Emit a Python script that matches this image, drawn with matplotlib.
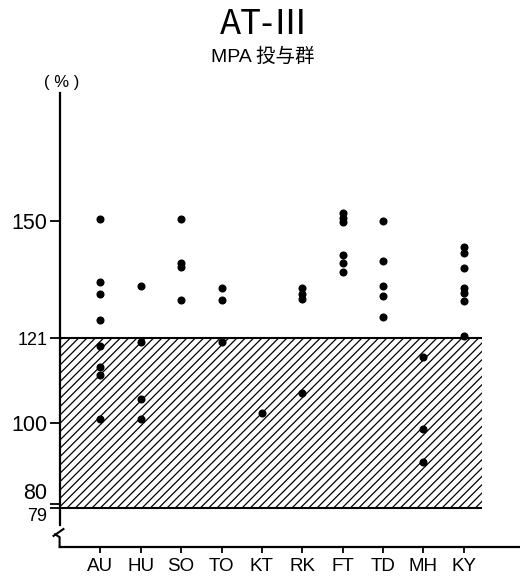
import matplotlib
matplotlib.use("Agg")
import matplotlib.pyplot as plt

plt.rcParams['font.family'] = ['Liberation Sans', 'Noto Sans CJK JP', 'DejaVu Sans']
plt.rcParams['hatch.linewidth'] = 0.9

# 施設ごとの測定値 (%)
sites = ['AU', 'HU', 'SO', 'TO', 'KT', 'RK', 'FT', 'TD', 'MH', 'KY']
values = [
    [150.5, 135, 132, 125.5, 119, 114, 112, 101],
    [134, 120, 106, 101],
    [150.5, 139.5, 138.5, 130.5],
    [133.5, 130.5, 120],
    [102.5],
    [133.5, 132, 130.8, 107.5],
    [152, 150.8, 149.7, 141.5, 139.5, 137.4],
    [150, 140, 134, 131.5, 126.3],
    [116.5, 98.5, 90.5],
    [143.6, 142.2, 138.3, 133.5, 132.3, 130.3, 121.5],
]

# 正常範囲
normal_low = 79
normal_high = 121
ytick_vals = [79, 80, 100, 121, 150]
ytick_sizes = [13, 15.5, 15.5, 13, 15.5]

fig = plt.figure(figsize=(5.2, 5.82), dpi=100)
ax = fig.add_axes([60 / 520, 1 - 547 / 582, 460 / 520, 454 / 582])

x_lo, x_hi = -1, 10.39
y_lo, y_hi = 69.46, 181.6
ax.set_xlim(x_lo, x_hi)
ax.set_ylim(y_lo, y_hi)

# 斜線の正常範囲
hatch_right = 9.46
ax.fill_between([x_lo, hatch_right], normal_low, normal_high,
                facecolor='white', edgecolor='black', hatch='////', linewidth=0, zorder=1)
ax.hlines([normal_low, normal_high], x_lo, hatch_right, colors='black', linewidth=1.5, zorder=2)

for i, vals in enumerate(values):
    ax.plot([i] * len(vals), vals, 'o', ms=4.8, color='black', zorder=3)

ax.set_xticks(range(len(sites)))
ax.set_xticklabels(sites, fontsize=13.5)
ax.set_yticks(ytick_vals)
ax.set_yticklabels([str(v) for v in ytick_vals])
for lab, fs, v in zip(ax.get_yticklabels(), ytick_sizes, ytick_vals):
    lab.set_fontsize(fs)
    if v == 80:
        lab.set_va('bottom')
    elif v == 79:
        lab.set_va('top')

ax.tick_params(axis='x', direction='out', length=4, width=1.3, pad=4)
ax.tick_params(axis='y', direction='out', length=7, width=1.3, pad=2)

for s in ['top', 'right']:
    ax.spines[s].set_visible(False)
ax.spines['bottom'].set_linewidth(1.6)
ax.spines['left'].set_linewidth(1.6)
ax.spines['left'].set_bounds(74.9, y_hi)

# 軸の省略記号
ax.plot([-1.16, -0.915], [72.2, 73.9], color='black', lw=1.5, clip_on=False)
ax.plot([-1.12, -1.01, -1.01], [72.6, 71.9, y_lo], color='black', lw=1.5, clip_on=False)

fig.text(264 / 520, 1 - 25 / 582, 'AT-Ⅲ', ha='center', va='center', fontsize=25,
         family=['Noto Sans CJK JP', 'DejaVu Sans'])
fig.text(263 / 520, 1 - 57 / 582, 'MPA 投与群', ha='center', va='center', fontsize=14)
fig.text(62 / 520, 1 - 83 / 582, '( % )', ha='center', va='center', fontsize=12)

fig.savefig('out.png', dpi=100)
